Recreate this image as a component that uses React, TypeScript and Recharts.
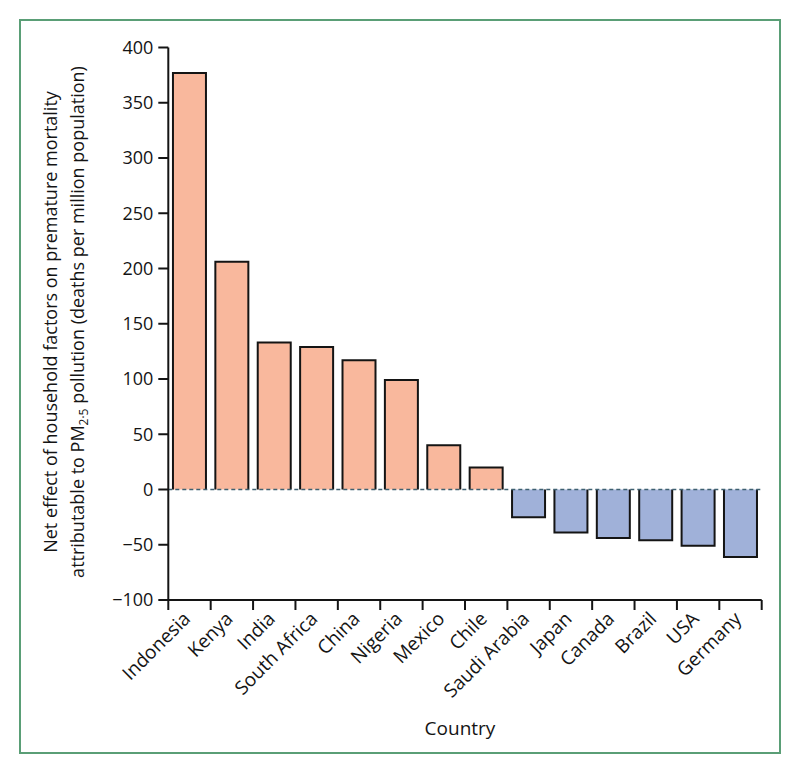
import { BarChart, Bar, XAxis, YAxis, ReferenceLine, Cell } from 'recharts'

const countries = [
  'Indonesia',
  'Kenya',
  'India',
  'South Africa',
  'China',
  'Nigeria',
  'Mexico',
  'Chile',
  'Saudi Arabia',
  'Japan',
  'Canada',
  'Brazil',
  'USA',
  'Germany',
]
const netEffect = [377, 206, 133, 129, 117, 99, 40, 20, -25, -39, -44, -46, -51, -61]
const yTicks = [-100, -50, 0, 50, 100, 150, 200, 250, 300, 350, 400]

const data = countries.map((name, i) => ({ name, value: netEffect[i] }))

const W = 800
const H = 774
const PLOT_LEFT = 168.3
const PLOT_RIGHT = 761.7
const PLOT_TOP = 47.5
const PLOT_BOTTOM = 600
const BAND = (PLOT_RIGHT - PLOT_LEFT) / countries.length
const FONT = '"Open Sans", sans-serif'
const INK = '#141414'

function BarShape(props: any) {
  const { x, y, width, height, fill } = props
  const top = Math.min(y, y + height)
  const h = Math.abs(height)
  const base = y + height
  return (
    <g>
      <rect x={x} y={top} width={width} height={h} fill={fill} />
      <path
        d={`M${x},${base} L${x},${y} L${x + width},${y} L${x + width},${base}`}
        fill="none"
        stroke={INK}
        strokeWidth={2}
      />
    </g>
  )
}

function CountryTick(props: any) {
  const { x, payload, index } = props
  const left = x - BAND / 2
  return (
    <g>
      <line x1={left} y1={PLOT_BOTTOM} x2={left} y2={PLOT_BOTTOM + 10} stroke={INK} strokeWidth={2} />
      {index === countries.length - 1 && (
        <line
          x1={left + BAND}
          y1={PLOT_BOTTOM}
          x2={left + BAND}
          y2={PLOT_BOTTOM + 10}
          stroke={INK}
          strokeWidth={2}
        />
      )}
      <text
        transform={`translate(${x + 2},${PLOT_BOTTOM + 20}) rotate(-45)`}
        textAnchor="end"
        fontSize={19}
        fontFamily={FONT}
        fill={INK}
      >
        {payload.value}
      </text>
    </g>
  )
}

function CountryTitle() {
  return (
    <text x={460} y={735} textAnchor="middle" fontSize={19} fontFamily={FONT} fill={INK}>
      Country
    </text>
  )
}

function YTitle() {
  const cy = 322
  return (
    <g fontFamily={FONT} fontSize={18} fill={INK}>
      <text transform={`translate(57,${cy}) rotate(-90)`} textAnchor="middle">
        Net effect of household factors on premature mortality
      </text>
      <text transform={`translate(84,${cy}) rotate(-90)`} textAnchor="middle">
        attributable to PM
        <tspan fontSize={12} dy={4}>
          2·5
        </tspan>
        <tspan dy={-4}> pollution (deaths per million population)</tspan>
      </text>
    </g>
  )
}

export default function App() {
  return (
    <div style={{ position: 'absolute', left: 0, top: 0, width: W, height: H, background: '#fff' }}>
      <div
        style={{
          position: 'absolute',
          left: 19,
          top: 19,
          width: 762,
          height: 735,
          border: '2px solid #5a9e76',
          boxSizing: 'border-box',
        }}
      />
      <div style={{ position: 'absolute', left: 0, top: 0 }}>
        <BarChart
          width={W}
          height={H}
          data={data}
          margin={{ top: PLOT_TOP, right: W - PLOT_RIGHT, left: 0, bottom: 0 }}
          barCategoryGap="11%"
        >
          <XAxis
            dataKey="name"
            interval={0}
            height={H - PLOT_BOTTOM}
            tickLine={false}
            axisLine={{ stroke: INK, strokeWidth: 2 }}
            tick={<CountryTick />}
            label={() => <CountryTitle />}
          />
          <YAxis
            type="number"
            domain={[-100, 400]}
            ticks={yTicks}
            interval={0}
            width={PLOT_LEFT}
            tickSize={10}
            tickMargin={5}
            axisLine={{ stroke: INK, strokeWidth: 2 }}
            tickLine={{ stroke: INK, strokeWidth: 2 }}
            tick={{ fontSize: 18, fontFamily: FONT, fill: INK }}
            tickFormatter={(v: number) => String(v).replace('-', '\u2212')}
            label={() => <YTitle />}
          />
          <Bar dataKey="value" shape={<BarShape />} isAnimationActive={false}>
            {data.map((d, i) => (
              <Cell key={i} fill={d.value >= 0 ? '#f9b89d' : '#a0b1d9'} />
            ))}
          </Bar>
          <ReferenceLine y={0} stroke="#3e6070" strokeWidth={1.5} strokeDasharray="4 3" />
        </BarChart>
      </div>
    </div>
  )
}
